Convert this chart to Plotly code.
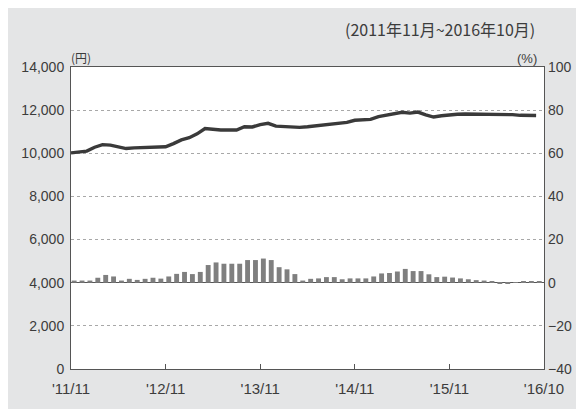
import plotly.graph_objects as go

months = list(range(60))
tick_pos = [0, 12, 24, 36, 48, 60]
tick_labels = ["'11/11", "'12/11", "'13/11", "'14/11", "'15/11", "'16/10"]

price = [10020, 10060, 10100, 10280, 10400, 10380, 10280, 10220, 10250, 10260,
         10250, 10260, 10300, 10450, 10620, 10720, 10900, 11150, 11100, 11080,
         11080, 11080, 11230, 11220, 11330, 11390, 11260, 11240, 11240, 11200,
         11230, 11270, 11300, 11320, 11360, 11430, 11530, 11560, 11570, 11700,
         11760, 11820, 11900, 11860, 11910, 11780, 11680, 11740, 11780, 11810,
         11820, 11820, 11820, 11820, 11820, 11810, 11790, 11760, 11750, 11750]

change = [1.0, 1.0, 1.0, 2.3, 3.6, 2.9, 1.0, 1.8, 1.3, 1.8,
          2.3, 1.9, 2.9, 4.1, 5.0, 4.0, 5.0, 8.2, 9.4, 8.8,
          8.8, 8.8, 10.5, 10.5, 11.2, 10.5, 7.2, 6.2, 4.0, 1.0,
          1.8, 2.0, 2.6, 2.6, 1.6, 2.0, 2.0, 2.0, 2.9, 4.3,
          4.5, 5.2, 6.4, 5.4, 5.4, 3.9, 2.6, 2.8, 2.4, 2.0,
          1.6, 1.2, 1.0, 0.5, -0.4, -0.4, 0.1, 0.4, 0.8, 0.8]

left_ticks = [0, 2000, 4000, 6000, 8000, 10000, 12000, 14000]
left_labels = ["0", "2,000", "4,000", "6,000", "8,000", "10,000", "12,000", "14,000"]
right_ticks = [-40, -20, 0, 20, 40, 60, 80, 100]
right_labels = ["\u221240", "\u221220", "0", "20", "40", "60", "80", "100"]

FONT = "Liberation Sans Narrow, Liberation Sans, Arial"
TXT = "#3c3c3c"

fig = go.Figure()
fig.add_trace(go.Bar(x=[m + 0.4 for m in months], y=change, yaxis="y2",
                     marker=dict(color="#7f7f7f", line=dict(width=0)),
                     width=0.62, showlegend=False))
fig.add_trace(go.Scatter(x=months, y=price, mode="lines",
                         line=dict(color="#3a3a3a", width=3.4),
                         showlegend=False))

fig.update_layout(
    width=576, height=401,
    margin=dict(l=63, r=31, t=59, b=39),
    paper_bgcolor="#e4e5e6",
    plot_bgcolor="white",
    font=dict(family=FONT, size=12, color=TXT),
    xaxis=dict(range=[0, 60], tickmode="array", tickvals=tick_pos, ticktext=tick_labels,
               ticks="inside", ticklen=5, tickcolor="#555", showgrid=False,
               zeroline=False, showline=True, linecolor="#555", linewidth=1, mirror=True,
               ticklabelstandoff=6, tickfont=dict(size=15, color=TXT)),
    yaxis=dict(range=[0, 14000], tickmode="array", tickvals=left_ticks, ticktext=left_labels,
               showgrid=True, gridcolor="#a8a8a8", griddash="dot", gridwidth=1,
               zeroline=False, showline=True, linecolor="#555", linewidth=1, mirror=True,
               ticks="", ticklabelstandoff=3, tickfont=dict(size=14, color=TXT)),
    yaxis2=dict(range=[-40, 100], overlaying="y", side="right", tickmode="array",
                tickvals=right_ticks, ticktext=right_labels, showgrid=False,
                zeroline=True, zerolinecolor="#555", zerolinewidth=1.2,
                ticks="", ticklabelstandoff=3, tickfont=dict(size=14, color=TXT)),
    bargap=0.35,
    annotations=[
        dict(text="(2011年11月~2016年10月)", xref="paper", yref="paper", x=0.985, y=1.125,
             xanchor="right", yanchor="middle", showarrow=False,
             font=dict(family="Noto Sans CJK JP", size=16, color=TXT)),
        dict(text="(円)", xref="paper", yref="paper", x=-0.005, y=1.0, xanchor="left",
             yanchor="bottom", showarrow=False, yshift=-1,
             font=dict(family="Noto Sans CJK JP", size=12, color=TXT)),
        dict(text="(%)", xref="paper", yref="paper", x=0.99, y=1.0, xanchor="right",
             yanchor="bottom", showarrow=False, yshift=-1,
             font=dict(size=13, color=TXT)),
    ],
)

fig.write_html("out.html")
